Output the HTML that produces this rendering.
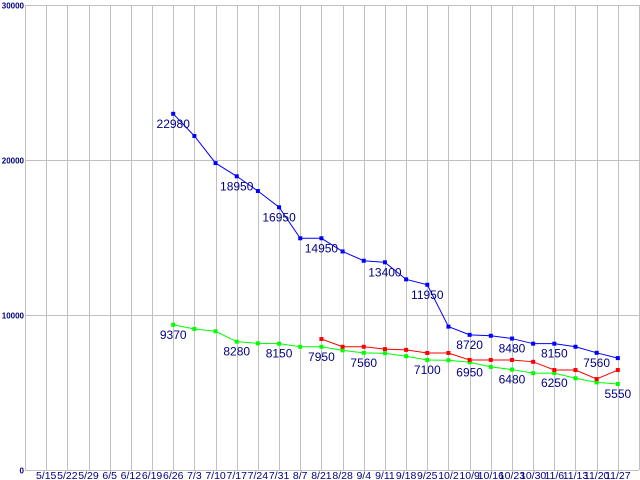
<!DOCTYPE html>
<html><head><meta charset="utf-8"><style>
html,body{margin:0;padding:0;background:#fff;}
svg{display:block;font-family:"Liberation Sans",sans-serif;}
</style></head><body>
<svg id="chart" width="640" height="480" xmlns="http://www.w3.org/2000/svg"></svg>
<script>
const categories=["5/15","5/22","5/29","6/5","6/12","6/19","6/26","7/3","7/10","7/17","7/24","7/31","8/7","8/21","8/28","9/4","9/11","9/18","9/25","10/2","10/9","10/16","10/23","10/30","11/6","11/13","11/20","11/27"];
const blueValues=[null,null,null,null,null,null,22980,21550,19800,18950,18000,16950,14950,14950,14100,13500,13400,12300,11950,9250,8720,8660,8480,8150,8150,7950,7560,7220];
const redValues=[null,null,null,null,null,null,null,null,null,null,null,null,null,8450,7950,7950,7800,7750,7550,7550,7100,7100,7100,6980,6450,6450,5870,6450];
const greenValues=[null,null,null,null,null,null,9370,9100,8950,8280,8170,8150,7950,7950,7720,7560,7530,7340,7100,7080,6950,6650,6480,6250,6250,5920,5650,5550];
const blueLabelIdx=[6,9,11,13,16,18,20,22,24,26];
const greenLabelIdx=[6,9,11,13,15,18,20,22,24,27];
const yTicks=[0,10000,20000,30000];

const NS="http://www.w3.org/2000/svg";
const svg=document.getElementById('chart');
const X0=25,X1=639,Y0=470,YTOP=5,YMAX=30000;
const step=(X1-X0)/29;
function xs(i){return X0+step*(i+1);}
function ys(v){return Y0-(v/YMAX)*(Y0-YTOP);}
function mk(tag,attrs){const e=document.createElementNS(NS,tag);for(const k in attrs)e.setAttribute(k,attrs[k]);svg.appendChild(e);return e;}

for(let i=0;i<=categories.length;i++){
  const x=Math.round(i<categories.length?xs(i):X1)+0.5;
  const l=mk('line',{x1:x,x2:x,y1:YTOP,y2:Y0,stroke:'#c0c0c0','stroke-width':1});
  
  
}
yTicks.forEach(v=>{
  const y=Math.round(ys(v))+0.5;
  if(v>0){const l=mk('line',{x1:X0,x2:X1,y1:y,y2:y,stroke:'#c0c0c0','stroke-width':1});
  
  }
  const t=mk('text',{x:24,y:y+3,'text-anchor':'end','font-size':8,'font-weight':'bold',fill:'#000080'});
  t.textContent=String(v);
  
  
});
const ax=mk('line',{x1:X0+0.5,x2:X0+0.5,y1:YTOP,y2:Y0,stroke:'#c0c0c0','stroke-width':1});


const bx=mk('line',{x1:X0,x2:X1,y1:Y0+0.5,y2:Y0+0.5,stroke:'#c0c0c0','stroke-width':1});


categories.forEach((c,i)=>{
  const t=mk('text',{x:xs(i),y:479,'text-anchor':'middle','font-size':10.5,fill:'#000080'});
  t.textContent=c;
  
  
});
function series(vals,color,name){
  let pts=[];
  vals.forEach((v,i)=>{if(v!=null)pts.push([xs(i),ys(v)]);});
  const p=mk('polyline',{points:pts.map(p=>p.join(',')).join(' '),fill:'none',stroke:color,'stroke-width':1});
  
  
  pts.forEach(pt=>{
    const r=mk('rect',{x:pt[0]-2,y:pt[1]-2,width:4,height:4,fill:color});
    
    
  });
}
series(greenValues,'#00ff00','green-series');
series(redValues,'#ff0000','red-series');
series(blueValues,'#0000ff','blue-series');
function labels(vals,idx,name){
  idx.forEach(i=>{
    const t=mk('text',{x:xs(i),y:ys(vals[i])+14,'text-anchor':'middle','font-size':12,fill:'#000080'});
    t.textContent=String(vals[i]);
    
    
  });
}
labels(blueValues,blueLabelIdx,'blue');
labels(greenValues,greenLabelIdx,'green');
</script>
</body></html>
